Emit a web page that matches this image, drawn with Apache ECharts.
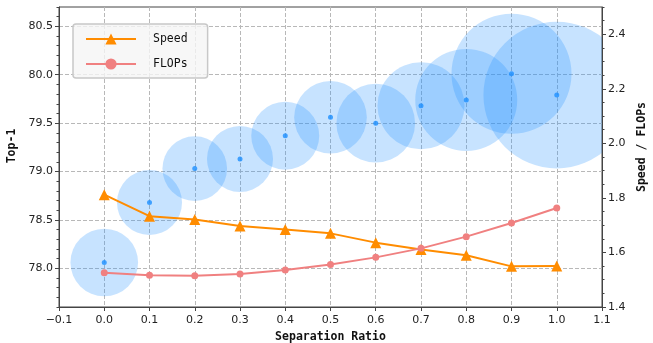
<!DOCTYPE html>
<html>
<head>
<meta charset="utf-8">
<script src="https://cdn.jsdelivr.net/npm/echarts@6/dist/echarts.min.js"></script>
<style>
  html, body { margin: 0; padding: 0; background: #fff; }
  #chart { width: 653px; height: 343px; }
</style>
</head>
<body>
<div id="chart"></div>
<script>
// separation ratio on x
var ratios = [0.0, 0.1, 0.2, 0.3, 0.4, 0.5, 0.6, 0.7, 0.8, 0.9, 1.0]
// top-1 accuracy (left axis)
var top1 = [78.06, 78.68, 79.03, 79.13, 79.37, 79.56, 79.50, 79.68, 79.74, 80.01, 79.79]
// bubble size value
var bubbleSize = [45.7, 42.3, 41.7, 43.6, 46.2, 52.7, 61.8, 75.7, 104, 144, 215]
// right axis series
var speed = [1.812, 1.733, 1.721, 1.697, 1.684, 1.670, 1.636, 1.611, 1.590, 1.549, 1.550]
var flops = [1.526, 1.516, 1.515, 1.521, 1.536, 1.556, 1.582, 1.615, 1.658, 1.708, 1.763]
// tick labels
var leftTicks = [78.0, 78.5, 79.0, 79.5, 80.0, 80.5]
var rightTicks = [1.4, 1.6, 1.8, 2.0, 2.2, 2.4]

var axisColor = '#444'
var tickFont = { fontFamily: 'DejaVu Sans', fontSize: 11, color: '#222' }
var titleFont = { fontFamily: 'DejaVu Sans Mono', fontWeight: 'bold', fontSize: 11.5, color: '#111' }
var gridLine = { show: true, lineStyle: { color: '#b8b8b8', type: [4, 2], width: 1 } }

var chart = echarts.init(document.getElementById('chart'))

chart.setOption({
  animation: false,
  grid: {
    left: 59, right: 51, top: 7, bottom: 36,
    outerBoundsMode: 'none',
    containLabel: false,
    show: true, borderColor: axisColor, borderWidth: 1
  },
  legend: {
    data: ['Speed', 'FLOPs'],
    orient: 'vertical',
    left: 73, top: 24,
    itemWidth: 50, itemHeight: 14, itemGap: 13,
    padding: [9, 20, 8, 12],
    backgroundColor: 'rgba(245,245,245,0.8)',
    borderColor: '#c8c8c8', borderWidth: 1.5, borderRadius: 3,
    textStyle: { fontFamily: 'DejaVu Sans Mono', fontSize: 11.5, color: '#111', padding: [0, 0, 0, 12] }
  },
  xAxis: {
    type: 'value',
    min: -0.1, max: 1.1, interval: 0.1,
    name: 'Separation Ratio', nameLocation: 'middle', nameGap: 19,
    nameTextStyle: titleFont,
    axisLine: { show: true, onZero: false, lineStyle: { color: axisColor } },
    axisTick: { show: true, inside: false, length: 4, lineStyle: { color: axisColor } },
    axisLabel: Object.assign({ margin: 8, formatter: function (v) { return v.toFixed(1).replace('-', '\u2212') } }, tickFont),
    splitLine: gridLine
  },
  yAxis: [{
    type: 'value', position: 'left',
    min: 77.6, max: 80.7,
    name: 'Top-1', nameLocation: 'middle', nameGap: 38,
    nameTextStyle: Object.assign({ padding: [0, 0, 0, 22] }, titleFont),
    axisLine: { show: true, onZero: false, lineStyle: { color: axisColor } },
    axisTick: { show: true, length: 4, customValues: leftTicks, lineStyle: { color: axisColor } },
    axisLabel: Object.assign({ margin: 6, customValues: leftTicks, formatter: function (v) { return v.toFixed(1) } }, tickFont),
    splitLine: gridLine
  }, {
    type: 'value', position: 'right',
    min: 1.4, max: 2.5,
    name: 'Speed / FLOPs', nameLocation: 'middle', nameGap: 33, nameRotate: 90,
    nameTextStyle: Object.assign({ padding: [0, 0, 0, 20] }, titleFont),
    axisLine: { show: true, onZero: false, lineStyle: { color: axisColor } },
    axisTick: { show: true, length: 4, customValues: rightTicks, lineStyle: { color: axisColor } },
    axisLabel: Object.assign({ margin: 6, customValues: rightTicks, formatter: function (v) { return v.toFixed(1) } }, tickFont),
    splitLine: { show: false }
  }, {
    // left minor ticks
    type: 'value', position: 'left',
    min: 77.6, max: 80.7, interval: 0.1,
    axisLine: { show: false, onZero: false },
    axisTick: { show: true, length: 2.5, lineStyle: { color: axisColor } },
    axisLabel: { show: false },
    splitLine: { show: false }
  }, {
    // right minor ticks
    type: 'value', position: 'right',
    min: 1.4, max: 2.5, interval: 0.05,
    axisLine: { show: false, onZero: false },
    axisTick: { show: true, length: 2.5, lineStyle: { color: axisColor } },
    axisLabel: { show: false },
    splitLine: { show: false }
  }],
  series: [{
    name: 'bubbles',
    type: 'custom',
    yAxisIndex: 0,
    clip: true,
    z: 1,
    silent: true,
    data: ratios.map(function (r, i) { return [r, top1[i], bubbleSize[i]] }),
    renderItem: function (params, api) {
      var p = api.coord([api.value(0), api.value(1)])
      return {
        type: 'circle',
        shape: { cx: p[0], cy: p[1], r: Math.sqrt(api.value(2)) * 5 },
        style: { fill: 'rgba(30,144,255,0.25)' }
      }
    }
  }, {
    name: 'Top-1',
    type: 'scatter',
    yAxisIndex: 0,
    z: 3,
    symbolSize: 5,
    itemStyle: { color: '#1e90ff' },
    data: ratios.map(function (r, i) { return [r, top1[i]] })
  }, {
    name: 'Speed',
    type: 'line',
    yAxisIndex: 1,
    z: 4,
    symbol: 'triangle', symbolSize: 11,
    lineStyle: { color: '#ff8c00', width: 2 },
    itemStyle: { color: '#ff8c00' },
    data: ratios.map(function (r, i) { return [r, speed[i]] })
  }, {
    name: 'FLOPs',
    type: 'line',
    yAxisIndex: 1,
    z: 4,
    symbol: 'circle', symbolSize: 7,
    lineStyle: { color: '#f08080', width: 2 },
    itemStyle: { color: '#f08080' },
    data: ratios.map(function (r, i) { return [r, flops[i]] })
  }]
})
</script>
</body>
</html>
